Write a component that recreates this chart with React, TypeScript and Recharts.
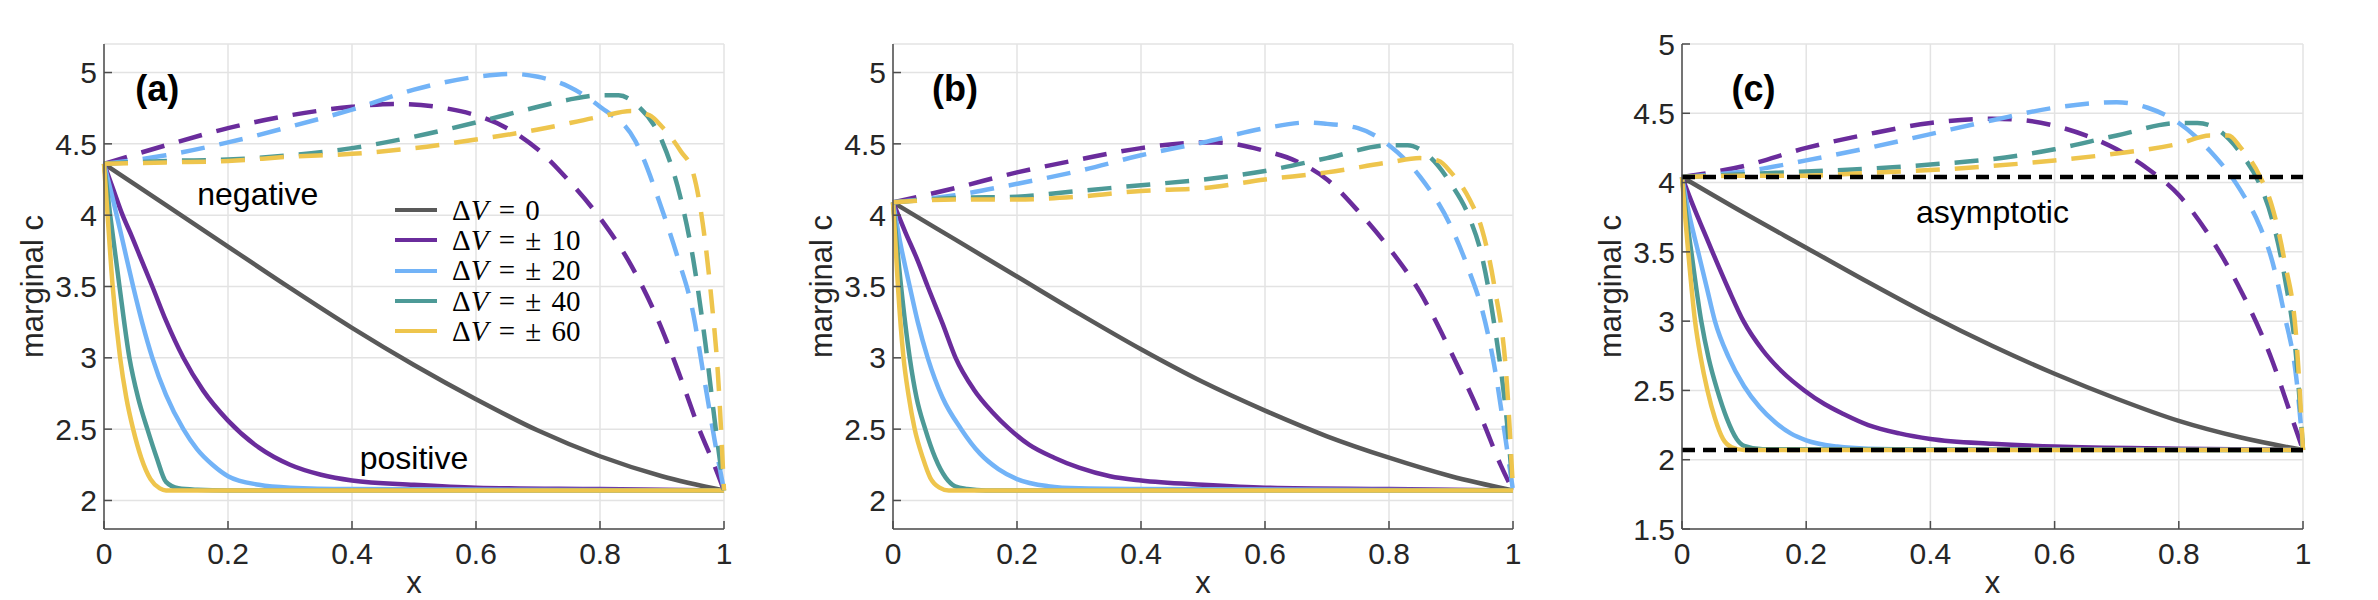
import React from 'react';
import {
  LineChart,
  Line,
  XAxis,
  YAxis,
  CartesianGrid,
  ReferenceLine,
  ReferenceDot,
  Legend,
} from 'recharts';

type Pt = [number, number];

// ---------- ticks / labels ----------
const X_TICKS = [0, 0.2, 0.4, 0.6, 0.8, 1];
const Y_TICKS_AB = [2, 2.5, 3, 3.5, 4, 4.5, 5];
const Y_TICKS_C = [1.5, 2, 2.5, 3, 3.5, 4, 4.5, 5];
const DV_LABELS = ['ΔV = 0', 'ΔV = ± 10', 'ΔV = ± 20', 'ΔV = ± 40', 'ΔV = ± 60'];
const COLORS = ['#595959', '#6a2c9c', '#72b3f7', '#4d9a97', '#eec54d'];

// ---------- panel (a) ----------
const A_POS_0: Pt[] = [[0, 4.36], [0.1, 4.07], [0.2, 3.78], [0.3, 3.49], [0.4, 3.21], [0.5, 2.95], [0.6, 2.71], [0.7, 2.49], [0.8, 2.31], [0.9, 2.17], [1, 2.07]];
const A_POS_10: Pt[] = [[0, 4.36], [0.015, 4.18], [0.03, 4.0], [0.045, 3.85], [0.06, 3.69], [0.078, 3.5], [0.1, 3.26], [0.128, 3.0], [0.16, 2.77], [0.2, 2.56], [0.25, 2.37], [0.3, 2.25], [0.35, 2.18], [0.4, 2.14], [0.5, 2.11], [0.6, 2.09], [0.8, 2.08], [1, 2.07]];
const A_POS_20: Pt[] = [[0, 4.36], [0.015, 4.1], [0.03, 3.82], [0.047, 3.5], [0.062, 3.24], [0.078, 3.0], [0.1, 2.74], [0.128, 2.5], [0.15, 2.36], [0.175, 2.25], [0.2, 2.17], [0.25, 2.11], [0.3, 2.09], [0.4, 2.08], [1, 2.07]];
const A_POS_40: Pt[] = [[0, 4.36], [0.01, 4.0], [0.025, 3.5], [0.041, 3.0], [0.055, 2.72], [0.07, 2.5], [0.085, 2.3], [0.1, 2.13], [0.12, 2.085], [0.15, 2.075], [0.2, 2.07], [1, 2.07]];
const A_POS_60: Pt[] = [[0, 4.36], [0.005, 4.05], [0.014, 3.5], [0.026, 3.0], [0.036, 2.72], [0.047, 2.5], [0.06, 2.3], [0.075, 2.15], [0.09, 2.085], [0.1, 2.07], [1, 2.07]];
const A_NEG_10: Pt[] = [[0, 4.36], [0.1, 4.49], [0.2, 4.61], [0.3, 4.7], [0.4, 4.76], [0.47, 4.78], [0.55, 4.75], [0.6, 4.7], [0.65, 4.61], [0.7, 4.46], [0.75, 4.24], [0.8, 3.98], [0.85, 3.65], [0.9, 3.2], [0.93, 2.86], [0.96, 2.5], [0.985, 2.24], [1, 2.07]];
const A_NEG_20: Pt[] = [[0, 4.36], [0.1, 4.42], [0.2, 4.51], [0.3, 4.62], [0.4, 4.74], [0.5, 4.88], [0.6, 4.97], [0.66, 4.99], [0.7, 4.97], [0.75, 4.9], [0.8, 4.76], [0.857, 4.52], [0.9, 4.04], [0.927, 3.68], [0.948, 3.36], [0.969, 2.83], [0.985, 2.42], [1, 2.07]];
const A_NEG_40: Pt[] = [[0, 4.36], [0.1, 4.38], [0.2, 4.39], [0.3, 4.42], [0.4, 4.47], [0.5, 4.55], [0.6, 4.65], [0.7, 4.76], [0.75, 4.81], [0.8, 4.84], [0.83, 4.84], [0.86, 4.77], [0.9, 4.52], [0.93, 4.12], [0.95, 3.7], [0.97, 3.1], [0.985, 2.56], [1, 2.07]];
const A_NEG_60: Pt[] = [[0, 4.36], [0.1, 4.37], [0.2, 4.38], [0.3, 4.41], [0.4, 4.43], [0.5, 4.47], [0.6, 4.53], [0.7, 4.6], [0.8, 4.69], [0.85, 4.73], [0.88, 4.7], [0.9, 4.62], [0.93, 4.45], [0.95, 4.3], [0.97, 3.8], [0.98, 3.4], [0.99, 2.9], [1, 2.07]];

// ---------- panel (b) ----------
const B_POS_0: Pt[] = [[0, 4.09], [0.1, 3.83], [0.2, 3.57], [0.3, 3.31], [0.4, 3.06], [0.5, 2.83], [0.6, 2.63], [0.7, 2.45], [0.8, 2.3], [0.9, 2.17], [1, 2.07]];
const B_POS_10: Pt[] = [[0, 4.09], [0.02, 3.88], [0.04, 3.68], [0.056, 3.5], [0.08, 3.24], [0.101, 3.0], [0.13, 2.78], [0.16, 2.62], [0.188, 2.5], [0.22, 2.39], [0.26, 2.3], [0.3, 2.23], [0.35, 2.17], [0.4, 2.14], [0.5, 2.11], [0.6, 2.09], [0.8, 2.08], [1, 2.07]];
const B_POS_20: Pt[] = [[0, 4.09], [0.012, 3.8], [0.027, 3.5], [0.04, 3.25], [0.056, 3.0], [0.08, 2.72], [0.11, 2.5], [0.14, 2.33], [0.17, 2.22], [0.2, 2.15], [0.25, 2.1], [0.3, 2.085], [0.4, 2.08], [1, 2.07]];
const B_POS_40: Pt[] = [[0, 4.09], [0.006, 3.8], [0.013, 3.5], [0.027, 3.0], [0.038, 2.72], [0.052, 2.5], [0.068, 2.3], [0.085, 2.16], [0.1, 2.1], [0.12, 2.08], [0.15, 2.07], [1, 2.07]];
const B_POS_60: Pt[] = [[0, 4.09], [0.004, 3.8], [0.008, 3.5], [0.017, 3.0], [0.025, 2.74], [0.035, 2.5], [0.048, 2.3], [0.06, 2.16], [0.075, 2.09], [0.09, 2.07], [1, 2.07]];
const B_NEG_10: Pt[] = [[0, 4.09], [0.1, 4.19], [0.2, 4.3], [0.3, 4.39], [0.4, 4.47], [0.5, 4.51], [0.52, 4.51], [0.6, 4.45], [0.65, 4.38], [0.7, 4.25], [0.75, 4.03], [0.8, 3.77], [0.85, 3.46], [0.9, 3.04], [0.95, 2.57], [0.98, 2.25], [1, 2.07]];
const B_NEG_20: Pt[] = [[0, 4.09], [0.1, 4.14], [0.2, 4.22], [0.3, 4.31], [0.4, 4.42], [0.5, 4.51], [0.6, 4.61], [0.67, 4.65], [0.7, 4.64], [0.75, 4.61], [0.8, 4.49], [0.85, 4.27], [0.9, 3.92], [0.93, 3.6], [0.95, 3.34], [0.97, 2.94], [0.99, 2.37], [1, 2.07]];
const B_NEG_40: Pt[] = [[0, 4.09], [0.1, 4.12], [0.2, 4.13], [0.3, 4.17], [0.4, 4.21], [0.5, 4.25], [0.6, 4.31], [0.7, 4.4], [0.8, 4.49], [0.83, 4.49], [0.86, 4.43], [0.9, 4.22], [0.93, 3.98], [0.95, 3.71], [0.97, 3.23], [0.99, 2.56], [1, 2.07]];
const B_NEG_60: Pt[] = [[0, 4.09], [0.1, 4.11], [0.2, 4.11], [0.3, 4.13], [0.4, 4.17], [0.5, 4.19], [0.6, 4.25], [0.7, 4.3], [0.8, 4.37], [0.85, 4.4], [0.88, 4.38], [0.9, 4.3], [0.93, 4.11], [0.95, 3.9], [0.97, 3.5], [0.99, 2.83], [1, 2.07]];

// ---------- panel (c) ----------
const C_POS_0: Pt[] = [[0, 4.04], [0.1, 3.78], [0.2, 3.53], [0.3, 3.28], [0.4, 3.04], [0.5, 2.82], [0.6, 2.62], [0.7, 2.44], [0.8, 2.28], [0.9, 2.16], [1, 2.07]];
const C_POS_10: Pt[] = [[0, 4.04], [0.02, 3.81], [0.035, 3.65], [0.049, 3.5], [0.075, 3.23], [0.099, 3.0], [0.13, 2.79], [0.16, 2.64], [0.197, 2.5], [0.23, 2.4], [0.26, 2.33], [0.3, 2.25], [0.35, 2.19], [0.4, 2.15], [0.5, 2.115], [0.6, 2.095], [0.8, 2.08], [1, 2.07]];
const C_POS_20: Pt[] = [[0, 4.04], [0.012, 3.76], [0.026, 3.5], [0.04, 3.24], [0.053, 3.0], [0.075, 2.74], [0.1, 2.53], [0.125, 2.38], [0.15, 2.27], [0.175, 2.19], [0.2, 2.14], [0.25, 2.095], [0.3, 2.08], [0.4, 2.075], [1, 2.07]];
const C_POS_40: Pt[] = [[0, 4.04], [0.007, 3.76], [0.015, 3.5], [0.031, 3.0], [0.043, 2.73], [0.057, 2.5], [0.072, 2.3], [0.088, 2.15], [0.1, 2.1], [0.13, 2.075], [1, 2.07]];
const C_POS_60: Pt[] = [[0, 4.04], [0.005, 3.76], [0.01, 3.5], [0.021, 3.0], [0.03, 2.74], [0.041, 2.5], [0.053, 2.3], [0.066, 2.15], [0.08, 2.09], [0.1, 2.07], [1, 2.07]];
const C_NEG_10: Pt[] = [[0, 4.04], [0.1, 4.12], [0.2, 4.25], [0.3, 4.35], [0.4, 4.43], [0.5, 4.46], [0.55, 4.45], [0.6, 4.41], [0.65, 4.34], [0.7, 4.24], [0.75, 4.1], [0.8, 3.91], [0.85, 3.61], [0.9, 3.22], [0.95, 2.72], [0.98, 2.33], [1, 2.07]];
const C_NEG_20: Pt[] = [[0, 4.04], [0.1, 4.08], [0.2, 4.16], [0.3, 4.25], [0.4, 4.35], [0.5, 4.45], [0.6, 4.54], [0.7, 4.58], [0.75, 4.54], [0.8, 4.43], [0.85, 4.23], [0.9, 3.94], [0.93, 3.69], [0.95, 3.44], [0.97, 3.05], [0.99, 2.56], [1, 2.07]];
const C_NEG_40: Pt[] = [[0, 4.04], [0.1, 4.06], [0.2, 4.08], [0.3, 4.1], [0.4, 4.13], [0.5, 4.17], [0.6, 4.24], [0.7, 4.34], [0.8, 4.43], [0.83, 4.43], [0.86, 4.39], [0.9, 4.21], [0.93, 3.99], [0.95, 3.74], [0.97, 3.33], [0.99, 2.69], [1, 2.07]];
const C_NEG_60: Pt[] = [[0, 4.04], [0.1, 4.05], [0.2, 4.05], [0.3, 4.07], [0.4, 4.09], [0.5, 4.12], [0.6, 4.16], [0.7, 4.21], [0.8, 4.28], [0.85, 4.34], [0.88, 4.34], [0.9, 4.25], [0.93, 4.05], [0.95, 3.83], [0.97, 3.44], [0.99, 2.83], [1, 2.07]];
const C_ASYMPTOTES = [4.04, 2.07];

// ---------- styling ----------
const SANS = '"Liberation Sans", Arial, Helvetica, sans-serif';
const SERIF = '"Liberation Serif", "Times New Roman", serif';
const AXIS_COLOR = '#4d4d4d';
const GRID_COLOR = '#e3e3e3';
const TEXT_COLOR = '#262626';
const LINE_W = 4.5;
const DASH = '24 15';
const TICK_FS = 30;
const LABEL_FS = 31;

type Note = { text: string; x: number; y: number; bold?: boolean; size: number };

type PanelCfg = {
  key: string;
  left: number;
  plotW: number;
  yDomain: [number, number];
  yTicks: number[];
  pos: Pt[][];
  neg: Pt[][];
  notes: Note[];
  legend: boolean;
  asymptotes: number[];
};

const PANELS: PanelCfg[] = [
  {
    key: 'a', left: 0, plotW: 620, yDomain: [1.8, 5.2], yTicks: Y_TICKS_AB,
    pos: [A_POS_0, A_POS_10, A_POS_20, A_POS_40, A_POS_60],
    neg: [A_NEG_10, A_NEG_20, A_NEG_40, A_NEG_60],
    notes: [
      { text: '(a)', x: 0.086, y: 4.89, bold: true, size: 36 },
      { text: 'negative', x: 0.248, y: 4.15, size: 32 },
      { text: 'positive', x: 0.5, y: 2.3, size: 32 },
    ],
    legend: true, asymptotes: [],
  },
  {
    key: 'b', left: 789, plotW: 620, yDomain: [1.8, 5.2], yTicks: Y_TICKS_AB,
    pos: [B_POS_0, B_POS_10, B_POS_20, B_POS_40, B_POS_60],
    neg: [B_NEG_10, B_NEG_20, B_NEG_40, B_NEG_60],
    notes: [{ text: '(b)', x: 0.1, y: 4.89, bold: true, size: 36 }],
    legend: false, asymptotes: [],
  },
  {
    key: 'c', left: 1578, plotW: 621, yDomain: [1.5, 5], yTicks: Y_TICKS_C,
    pos: [C_POS_0, C_POS_10, C_POS_20, C_POS_40, C_POS_60],
    neg: [C_NEG_10, C_NEG_20, C_NEG_40, C_NEG_60],
    notes: [
      { text: '(c)', x: 0.115, y: 4.68, bold: true, size: 36 },
      { text: 'asymptotic', x: 0.5, y: 3.79, size: 32 },
    ],
    legend: false, asymptotes: C_ASYMPTOTES,
  },
];

const toRows = (pts: Pt[]) => pts.map(([x, y]) => ({ x, y }));

const renderDV = (label: string) => (
  <>
    {'Δ'}
    <i>V</i>
    {label.slice(2)}
  </>
);

const LegendContent = (props: any) => {
  const items: any[] = (props.payload || []).filter(
    (it: any) => it.type !== 'none' && !String(it.value).includes('negative'),
  );
  return (
    <div style={{ fontFamily: SERIF, fontSize: 29, wordSpacing: 3, color: '#000' }}>
      {items.map((it: any) => (
        <div key={String(it.value)} style={{ display: 'flex', alignItems: 'center', height: 30.3 }}>
          <svg width={57} height={12} style={{ flex: 'none' }}>
            <line x1={0} y1={6} x2={42} y2={6} stroke={it.color} strokeWidth={4} />
          </svg>
          <span style={{ whiteSpace: 'nowrap', lineHeight: 1 }}>{renderDV(String(it.value))}</span>
        </div>
      ))}
    </div>
  );
};

const YLabel = (props: any) => {
  const vb = props.viewBox || { x: 0, y: 0, width: 0, height: 0 };
  const cx = vb.x + 32;
  const cy = vb.y + vb.height / 2;
  return (
    <text x={cx} y={cy} transform={`rotate(-90 ${cx} ${cy})`} textAnchor="middle" dominantBaseline="central"
      fontFamily={SANS} fontSize={LABEL_FS} fill={TEXT_COLOR}>
      marginal c
    </text>
  );
};

const XLabel = (props: any) => {
  const vb = props.viewBox || { x: 0, y: 0, width: 0, height: 0 };
  return (
    <text x={vb.x + vb.width / 2} y={vb.y + 64} textAnchor="middle" fontFamily={SANS} fontSize={LABEL_FS} fill={TEXT_COLOR}>
      x
    </text>
  );
};

const NoteLabel = ({ viewBox, note }: { viewBox: any; note: Note }) => {
  const vb = viewBox || { x: 0, y: 0, width: 0, height: 0 };
  const cx = vb.x + (vb.width || 0) / 2;
  const cy = vb.y + (vb.height || 0) / 2;
  return (
    <text x={cx} y={cy} textAnchor="middle" dominantBaseline="central" fontFamily={SANS}
      fontSize={note.size} fontWeight={note.bold ? 700 : 400} fill="#000">
      {note.text}
    </text>
  );
};

const Panel = ({ cfg }: { cfg: PanelCfg }) => {
  const width = 104 + cfg.plotW + 20;
  const axisLine = { stroke: AXIS_COLOR, strokeWidth: 1.5 };
  const tickStyle = { fontSize: TICK_FS, fill: TEXT_COLOR, fontFamily: SANS };
  return (
    <LineChart width={width} height={600} margin={{ top: 44, right: 20, bottom: 0, left: 0 }}>
      <CartesianGrid stroke={GRID_COLOR} strokeWidth={1.5} />
      <XAxis dataKey="x" type="number" domain={[0, 1]} ticks={X_TICKS} interval={0} height={71}
        tickSize={-8} tickMargin={22} tick={tickStyle} axisLine={axisLine} tickLine={axisLine}
        label={(p: any) => <XLabel {...p} />} />
      <XAxis xAxisId="top" orientation="top" dataKey="x" type="number" domain={[0, 1]} ticks={X_TICKS}
        interval={0} height={0} tickSize={-8} tick={false} axisLine={axisLine} tickLine={axisLine} />
      <YAxis type="number" domain={cfg.yDomain} ticks={cfg.yTicks} interval={0} width={104}
        tickSize={-8} tickMargin={15} tick={tickStyle} axisLine={axisLine} tickLine={axisLine}
        label={(p: any) => <YLabel {...p} />} />
      <YAxis yAxisId="right" orientation="right" type="number" domain={cfg.yDomain} ticks={cfg.yTicks}
        interval={0} width={0} tickSize={-8} tick={false} axisLine={axisLine} tickLine={axisLine} />

      <Line data={toRows(cfg.pos[0])} dataKey="y" name={DV_LABELS[0]} type="monotone" stroke={COLORS[0]}
        strokeWidth={LINE_W} dot={false} activeDot={false} isAnimationActive={false} />
      {[1, 2, 3, 4].map((i) => (
        <Line key={`p${i}`} data={toRows(cfg.pos[i])} dataKey="y" name={DV_LABELS[i]} type="monotone"
          stroke={COLORS[i]} strokeWidth={LINE_W} dot={false} activeDot={false} isAnimationActive={false} />
      ))}
      {[1, 2, 3, 4].map((i) => (
        <Line key={`n${i}`} data={toRows(cfg.neg[i - 1])} dataKey="y" name={`${DV_LABELS[i]} (negative)`}
          legendType="none" type="monotone" stroke={COLORS[i]} strokeWidth={LINE_W} strokeDasharray={DASH}
          dot={false} activeDot={false} isAnimationActive={false} />
      ))}

      {cfg.asymptotes.map((v) => (
        <ReferenceLine key={`asy${v}`} y={v} stroke="#000" strokeWidth={4.5} strokeDasharray="13 8" />
      ))}

      {cfg.notes.map((n) => (
        <ReferenceDot key={n.text} x={n.x} y={n.y} r={0} fill="none" stroke="none"
          label={{ content: (p: any) => <NoteLabel viewBox={p.viewBox} note={n} /> }} />
      ))}

      {cfg.legend && (
        <Legend layout="vertical" align="center" verticalAlign="middle" content={(p: any) => <LegendContent {...p} />}
          wrapperStyle={{ left: 395, top: 195, width: 'auto', height: 'auto' }} />
      )}
    </LineChart>
  );
};

export default function App() {
  return (
    <div style={{ position: 'absolute', left: 0, top: 0, width: 2378, height: 600, background: '#fff', overflow: 'hidden' }}>
      {PANELS.map((cfg) => (
        <div key={cfg.key} style={{ position: 'absolute', left: cfg.left, top: 0 }}>
          <Panel cfg={cfg} />
        </div>
      ))}
    </div>
  );
}
